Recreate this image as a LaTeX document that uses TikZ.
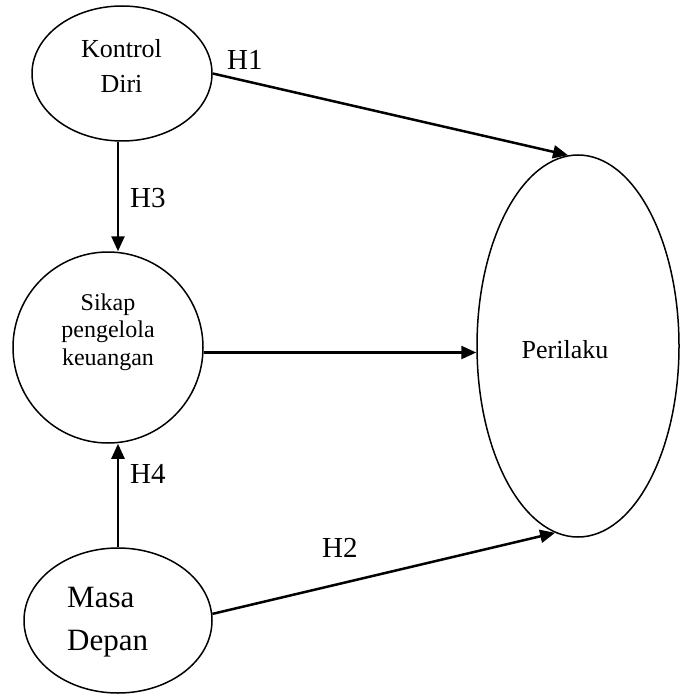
\documentclass[tikz,border=0pt]{standalone}
\usepackage{fontspec}
\setmainfont{Liberation Serif}
\usetikzlibrary{shapes.geometric,arrows.meta}
\begin{document}
\begin{tikzpicture}[x=1pt,y=-1pt,
  shp/.style={draw,ellipse,line width=1.5pt,inner sep=0pt},
  arr/.style={line width=2.5pt,-{Triangle[length=15pt,width=13pt]}},
  lbl/.style={anchor=base west,inner sep=0pt,font=\fontsize{29}{34}\selectfont},
  txt/.style={anchor=base,inner sep=0pt}]
\fill[white] (0,0) rectangle (686,695);
\useasboundingbox (0,0) rectangle (686,695);
% shapes
\node[shp,minimum width=180pt,minimum height=135pt] (kd) at (122,73.5) {};
\node[shp,minimum width=190pt,minimum height=191pt] (sk) at (108,347.5) {};
\node[shp,minimum width=188pt,minimum height=145pt] (md) at (118,620.5) {};
\node[shp,minimum width=202pt,minimum height=382pt] (per) at (578,346) {};
% texts
\begin{scope}[font=\fontsize{26}{31}\selectfont]
\node[txt] (kd1) at (121.5,58) {Kontrol};
\node[txt] (kd2) at (121.5,93) {Diri};
\node[txt] (per1) at (565,358) {Perilaku};
\end{scope}
\begin{scope}[font=\fontsize{24}{28}\selectfont]
\node[txt] (sk1) at (108,310) {Sikap};
\node[txt] (sk2) at (108,337) {pengelola};
\node[txt] (sk3) at (108,365) {keuangan};
\end{scope}
\begin{scope}[font=\fontsize{31}{36}\selectfont]
\node[txt,anchor=base west] (md1) at (67,607) {Masa};
\node[txt,anchor=base west] (md2) at (67,650) {Depan};
\end{scope}
% connectors
\coordinate (vx) at (118,0);
\draw[arr] (kd.east) -- (per.93.9);
\draw[arr] (kd.south -| vx) -- (sk.north -| vx);
\draw[arr] (sk.-3) -- (sk.-3 -| per.west);
\draw[arr] (md.north -| vx) -- (sk.south -| vx);
\draw[arr] (md.4) -- (per.263.6);
% labels
\node[lbl] (h1) at (227,70) {H1};
\node[lbl] (h3) at (130,207) {H3};
\node[lbl] (h4) at (130,483) {H4};
\node[lbl] (h2) at (322,557) {H2};
\end{tikzpicture}
\end{document}
